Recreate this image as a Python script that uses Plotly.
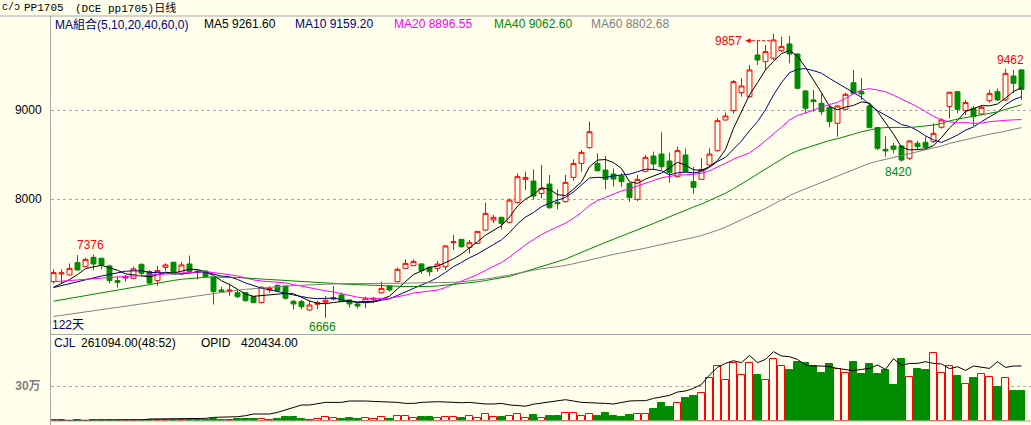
import pandas as pd
import plotly.graph_objects as go

# ---------------- data ----------------
opens = [7072, 7158, 7147, 7285, 7240, 7345, 7334, 7248, 7083, 7112,
         7109, 7266, 7184, 7083, 7232, 7289, 7160, 7270, 7191, 7191,
         7120, 6978, 6960, 6948, 6948, 6903, 6836, 6978, 7030, 7023,
         6851, 6847, 6753, 6817, 6839, 6876, 6922, 6866, 6820, 6836,
         6866, 6947, 7022, 7071, 7221, 7251, 7270, 7232, 7221, 7239,
         7510, 7547, 7457, 7502, 7651, 7764, 7794, 7738, 7962, 8221,
         8202, 8063, 8168, 7962, 7970, 8243, 8400, 8577, 8400, 8326,
         8281, 8258, 8176, 7996, 8311, 8483, 8505, 8427, 8251, 8494,
         8195, 8221, 8382, 8543, 8888, 8993, 9195, 9150, 9618, 9543,
         9581, 9667, 9742, 9629, 9214, 9113, 9075, 9030, 8851, 9008,
         9307, 9206, 9045, 8802, 8558, 8596, 8596, 8457, 8626, 8637,
         8644, 8806, 9038, 9206, 8993, 9019, 8955, 9105, 9206, 9113,
         9382, 9450]
highs = [7210, 7210, 7275, 7370, 7340, 7376, 7340, 7262, 7130, 7146,
         7240, 7275, 7202, 7247, 7277, 7295, 7294, 7365, 7209, 7195,
         7125, 7015, 7050, 6978, 6955, 6910, 7020, 7020, 7040, 7025,
         6866, 6866, 6855, 6858, 6910, 7020, 6950, 6870, 6835, 6903,
         6900, 7072, 7028, 7230, 7322, 7322, 7280, 7240, 7303, 7483,
         7595, 7550, 7539, 7640, 7959, 7820, 7800, 8007, 8288, 8307,
         8333, 8382, 8270, 8108, 8270, 8445, 8550, 8869, 8513, 8483,
         8344, 8288, 8185, 8270, 8494, 8532, 8749, 8520, 8588, 8569,
         8363, 8457, 8570, 8907, 8970, 9337, 9356, 9506, 9779, 9730,
         9857, 9824, 9832, 9640, 9225, 9225, 9180, 9056, 9056, 9195,
         9450, 9356, 9075, 8810, 8708, 8633, 8605, 8663, 8652, 8700,
         8850, 8907, 9206, 9215, 9113, 9045, 9053, 9225, 9240, 9462,
         9450, 9460]
lows = [7050, 7045, 7140, 7195, 7235, 7200, 7210, 7052, 7005, 7072,
        7100, 7128, 7034, 7026, 7195, 7157, 7146, 7164, 7097, 7120,
        6815, 6950, 6912, 6884, 6846, 6828, 6830, 6948, 6968, 6870,
        6757, 6760, 6745, 6762, 6666, 6860, 6840, 6778, 6772, 6772,
        6840, 6940, 6959, 7065, 7215, 7245, 7160, 7135, 7183, 7202,
        7427, 7450, 7389, 7495, 7640, 7730, 7659, 7726, 7950, 8101,
        7996, 8007, 7890, 7884, 7960, 8206, 8307, 8565, 8310, 8108,
        8138, 8138, 7970, 7977, 8300, 8326, 8330, 8183, 8245, 8300,
        8060, 8215, 8375, 8535, 8880, 8960, 9150, 9140, 9506, 9450,
        9560, 9650, 9525, 9235, 8963, 8981, 8944, 8806, 8700, 9000,
        9180, 9113, 8795, 8550, 8476, 8513, 8420, 8440, 8550, 8558,
        8630, 8790, 8907, 8963, 8944, 8820, 8940, 9083, 9100, 9100,
        9187, 9113]
closes = [7173, 7170, 7221, 7203, 7322, 7270, 7259, 7083, 7064, 7122,
          7215, 7165, 7055, 7195, 7259, 7160, 7259, 7184, 7176, 7128,
          6959, 6959, 6978, 6903, 6858, 6836, 7008, 6996, 6970, 6884,
          6821, 6790, 6809, 6835, 6862, 6890, 6847, 6821, 6798, 6884,
          6884, 6996, 6978, 7210, 7277, 7299, 7195, 7183, 7269, 7472,
          7520, 7464, 7509, 7636, 7839, 7794, 7726, 7988, 8251, 8243,
          8033, 8120, 7902, 7947, 8187, 8400, 8524, 8756, 8318, 8221,
          8224, 8195, 8015, 8221, 8468, 8393, 8363, 8296, 8543, 8307,
          8131, 8333, 8505, 8880, 8933, 9319, 9270, 9450, 9562, 9656,
          9787, 9712, 9629, 9244, 9019, 9094, 8981, 8869, 9045, 9176,
          9187, 9180, 8802, 8570, 8540, 8558, 8438, 8652, 8588, 8581,
          8738, 8888, 9199, 9008, 9083, 8925, 9030, 9187, 9113, 9412,
          9300, 9232]
volumes = [5800, 5800, 1500, 5800, 1500, 5800, 5800, 5800, 3000, 3000,
           3000, 4000, 6000, 5800, 5800, 5800, 7000, 5800, 5800, 8000,
           14400, 8650, 8650, 14400, 14400, 14400, 14400, 8650, 14400, 31700,
           31700, 14400, 5800, 14400, 28800, 20200, 14400, 23100, 14400, 20200,
           14400, 28800, 14400, 40400, 40400, 20200, 31700, 31700, 20200, 31700,
           31700, 23100, 40400, 23100, 57700, 31700, 30000, 39000, 56000, 20200,
           47500, 20200, 40400, 40400, 63400, 63400, 37500, 54800, 40400, 66300,
           40400, 31700, 49000, 54800, 54800, 100900, 152800, 118200, 152800, 196100,
           213400, 239300, 366200, 472900, 351800, 495900, 395000, 495900, 395000, 351800,
           530500, 472900, 438300, 510400, 501700, 472900, 415200, 490200, 444100, 409400,
           510400, 403700, 490200, 403700, 438300, 308500, 530500, 374800, 444100, 438300,
           582400, 415200, 472900, 386400, 317200, 366200, 400800, 380600, 288300, 366200,
           256600, 261094]
opid = [2000, 2000, 2100, 2100, 2200, 2200, 2300, 2400, 5100, 5100,
        5100, 5100, 12800, 12800, 12800, 12800, 12800, 12800, 12800, 17900,
        25600, 25600, 30700, 30700, 38400, 51300, 51300, 51300, 64000, 82200,
        99900, 120700, 120700, 130700, 140700, 140700, 140700, 151400, 153700, 151400,
        148300, 146000, 143700, 140700, 133000, 133000, 140700, 146000, 146000, 143700,
        140700, 138300, 140700, 133000, 128400, 128400, 133000, 121400, 116800, 111400,
        126800, 136000, 144500, 152200, 161400, 151400, 140700, 138300, 133000, 133000,
        128400, 138300, 151400, 153700, 153700, 171400, 184500, 194500, 220600, 228300,
        248300, 279000, 351300, 409700, 440400, 461200, 445800, 501900, 445800, 471200,
        530300, 497300, 491900, 471200, 428100, 420400, 420400, 415000, 402000, 394300,
        384300, 394300, 402000, 428100, 394300, 476500, 425000, 440400, 440400, 453500,
        440400, 435800, 399700, 415000, 386600, 420400, 412700, 402000, 453500, 409700,
        420400, 420434]

# moving-average values before each window fills
ma5_head = [7008, 7050, 7095, 7150]
ma10_head = [7005, 7028, 7050, 7072, 7095, 7115, 7135, 7152, 7170]
ma20_head = [7070, 7078, 7086, 7094, 7100, 7106, 7112, 7118, 7124, 7130,
             7135, 7140, 7146, 7152, 7158, 7163, 7168, 7173, 7178]
ma40_head = [6852, 6868, 6884, 6900, 6915, 6930, 6946, 6962, 6977, 6992,
             7008, 7024, 7040, 7055, 7070, 7085, 7098, 7108, 7116, 7121,
             7124, 7124, 7122, 7118, 7112, 7106, 7100, 7094, 7088, 7082,
             7076, 7070, 7064, 7059, 7054, 7049, 7045, 7041, 7038]
ma60_head = [6680, 6693, 6706, 6719, 6732, 6745, 6758, 6771, 6784, 6797,
             6810, 6823, 6836, 6849, 6862, 6875, 6888, 6901, 6914, 6928,
             6942, 6954, 6965, 6975, 6984, 6993, 7001, 7008, 7015, 7021,
             7027, 7032, 7036, 7040, 7043, 7046, 7048, 7050, 7051, 7052,
             7050, 7051, 7052, 7053, 7054, 7055, 7056, 7057, 7058, 7060,
             7064, 7070, 7078, 7088, 7101, 7115, 7128, 7145, 7165]

ma_specs = [("MA5", 5, ma5_head, "#000000"),
            ("MA10", 10, ma10_head, "#000080"),
            ("MA20", 20, ma20_head, "#FF00FF"),
            ("MA40", 40, ma40_head, "#008800"),
            ("MA60", 60, ma60_head, "#808080")]

legend_items = [("MA組合(5,10,20,40,60,0)", "#000080", 54),
                ("MA5 9261.60", "#000000", 203),
                ("MA10 9159.20", "#000080", 294),
                ("MA20 8896.55", "#FF00FF", 393),
                ("MA40 9062.60", "#008800", 493),
                ("MA60 8802.68", "#808080", 590)]

# ---------------- styling / geometry ----------------
W, H = 1031, 425
BG = "#FFFFEC"
RED = "#FF0000"
GREEN = "#008C00"
FRAME = "#A8A8A8"
SANS = "Liberation Sans, Noto Sans CJK SC, sans-serif"
MONO = "Liberation Mono, Noto Sans CJK SC, monospace"

PX_PER_UNIT = 0.089          # price scale (px per price unit)
def price_at(ypix):
    return 9000 + (110 - ypix) / PX_PER_UNIT

VOL_PER_PX = 8650
OPID_PER_PX = 7686

n = len(closes)
idx = list(range(n))
s_close = pd.Series(closes, dtype=float)

fig = go.Figure()

fig.add_trace(go.Candlestick(
    x=idx, open=opens, high=highs, low=lows, close=closes,
    increasing=dict(line=dict(color=RED, width=1), fillcolor=BG),
    decreasing=dict(line=dict(color=GREEN, width=1), fillcolor=GREEN),
    whiskerwidth=0, hoverinfo="skip", xaxis="x", yaxis="y"))

for name, period, head, color in ma_specs:
    vals = s_close.rolling(period).mean()
    vals.iloc[:period - 1] = head
    fig.add_trace(go.Scatter(x=idx, y=vals.tolist(), mode="lines",
                             line=dict(color=color, width=1),
                             hoverinfo="skip", xaxis="x", yaxis="y"))

up = [c >= o for o, c in zip(opens, closes)]
fig.add_trace(go.Bar(
    x=idx, y=volumes, width=0.78,
    marker=dict(color=[BG if u else GREEN for u in up],
                line=dict(color=[RED if u else GREEN for u in up], width=1)),
    hoverinfo="skip", xaxis="x", yaxis="y2"))

fig.add_trace(go.Scatter(x=idx, y=opid, mode="lines",
                         line=dict(color="#000000", width=1),
                         hoverinfo="skip", xaxis="x", yaxis="y3"))

# ---------------- text ----------------
def ptxt(x, y, text, color="#000000", size=12, family=SANS, anchor="left"):
    return dict(x=x / W, y=1 - y / H, xref="paper", yref="paper", text=text,
                showarrow=False, xanchor=anchor, yanchor="middle",
                font=dict(family=family, size=size, color=color), borderpad=0)

ann = [ptxt(1, 8, "c/ɔ", size=10, family=MONO),
       ptxt(23, 8, "PP1705", size=11, family=MONO),
       ptxt(74, 8, "(DCE pp1705)日线", size=11, family=MONO)]
for text, color, xp in legend_items:
    ann.append(ptxt(xp, 24, text, color))
ann.append(ptxt(51, 325, "122天", "#000080"))
ann += [ptxt(53, 343, "CJL", "#000080"),
        ptxt(80, 343, "261094.00(48:52)"),
        ptxt(200, 343, "OPID"),
        ptxt(240, 343, "420434.00")]

def dtxt(i, y, text, color, above, xshift=0, yshift=0, xanchor="center"):
    return dict(x=i, y=y, xref="x", yref="y", text=text, showarrow=False,
                xanchor=xanchor, yanchor="bottom" if above else "top",
                xshift=xshift, yshift=yshift, borderpad=0,
                font=dict(family=SANS, size=12, color=color))

i_hi_left = max(range(30), key=lambda k: highs[k])
i_lo = min(range(n), key=lambda k: lows[k])
i_hi = max(range(n), key=lambda k: highs[k])
i_lo_late = min(range(100, n), key=lambda k: lows[k])
i_hi_last = max(range(110, n), key=lambda k: highs[k])

ann.append(dtxt(i_hi_left, highs[i_hi_left], f"{highs[i_hi_left]}", RED, True, -3, 2))
ann.append(dtxt(i_lo, lows[i_lo], f"{lows[i_lo]}", GREEN, False, -3, -1))
ann.append(dtxt(i_lo_late, lows[i_lo_late], f"{lows[i_lo_late]}", GREEN, False, -3, -2))
ann.append(dtxt(i_hi_last, highs[i_hi_last], f"{highs[i_hi_last]}", RED, True, 5, 1))
# highest high with dashed pointer
ann.append(dict(x=i_hi, y=highs[i_hi], xref="x", yref="y", text=f"{highs[i_hi]}",
                showarrow=False, xanchor="right", yanchor="middle",
                xshift=-31, yshift=-7, borderpad=0,
                font=dict(family=SANS, size=12, color=RED)))
ann.append(dict(x=i_hi, y=highs[i_hi], xref="x", yref="y", text="",
                showarrow=True, arrowhead=2, arrowsize=1, arrowwidth=1,
                arrowcolor=RED, ax=8, ay=0, xshift=-28, yshift=-7))

y_ptr = highs[i_hi] - 7 / PX_PER_UNIT
shapes = [
    dict(type="line", xref="x", yref="y", x0=i_hi - 27 / 8 + 0.7, x1=i_hi - 0.3,
         y0=y_ptr, y1=y_ptr, line=dict(color=RED, width=1, dash="3px,2px")),
    # frame lines
    dict(type="line", xref="paper", yref="paper", x0=0, x1=1,
         y0=1 - 16 / H, y1=1 - 16 / H, line=dict(color=FRAME, width=1)),
    dict(type="line", xref="paper", yref="paper", x0=50.5 / W, x1=50.5 / W,
         y0=0, y1=1 - 16 / H, line=dict(color=FRAME, width=1)),
    dict(type="line", xref="paper", yref="paper", x0=50.5 / W, x1=1,
         y0=1 - 334.5 / H, y1=1 - 334.5 / H, line=dict(color=FRAME, width=1)),
    dict(type="line", xref="paper", yref="paper", x0=50.5 / W, x1=1,
         y0=1 - 421 / H, y1=1 - 421 / H, line=dict(color=FRAME, width=1)),
]

fig.update_layout(
    width=W, height=H, margin=dict(l=0, r=0, t=0, b=0, pad=0),
    paper_bgcolor=BG, plot_bgcolor=BG, showlegend=False,
    boxgap=0.12, bargap=0,
    annotations=ann, shapes=shapes,
    xaxis=dict(domain=[51 / W, 1], range=[-0.3125, (W - 53.5) / 8],
               visible=False, rangeslider=dict(visible=False), fixedrange=True),
    yaxis=dict(domain=[1 - 334 / H, 1 - 17 / H], range=[price_at(334), price_at(17)],
               tickvals=[8000, 9000], showgrid=True, gridcolor=FRAME, griddash="dot",
               gridwidth=1, zeroline=False, showline=False, ticks="outside",
               ticklen=6, tickcolor=BG, fixedrange=True,
               tickfont=dict(family=SANS, size=12, color="#000000")),
    yaxis2=dict(domain=[1 - 420.7 / H, 1 - 336 / H], range=[0, 84.7 * VOL_PER_PX],
                tickvals=[300000], ticktext=["<b>30万</b>"], showgrid=True,
                gridcolor=FRAME, griddash="dot", gridwidth=1, zeroline=False,
                showline=False, ticks="outside", ticklen=7, tickcolor=BG,
                fixedrange=True,
                tickfont=dict(family=SANS, size=12, color="#808080")),
    yaxis3=dict(overlaying="y2", range=[0, 84.7 * OPID_PER_PX], visible=False,
                fixedrange=True),
)

fig.write_html("out.html", config={"displayModeBar": False})

# remove the browser's default page margin so the figure fills the window
with open("out.html", "r", encoding="utf-8") as fh:
    page = fh.read()
page = page.replace("<head>", "<head><style>html,body{margin:0;padding:0;overflow:hidden;background:%s}</style>" % BG, 1)
with open("out.html", "w", encoding="utf-8") as fh:
    fh.write(page)
